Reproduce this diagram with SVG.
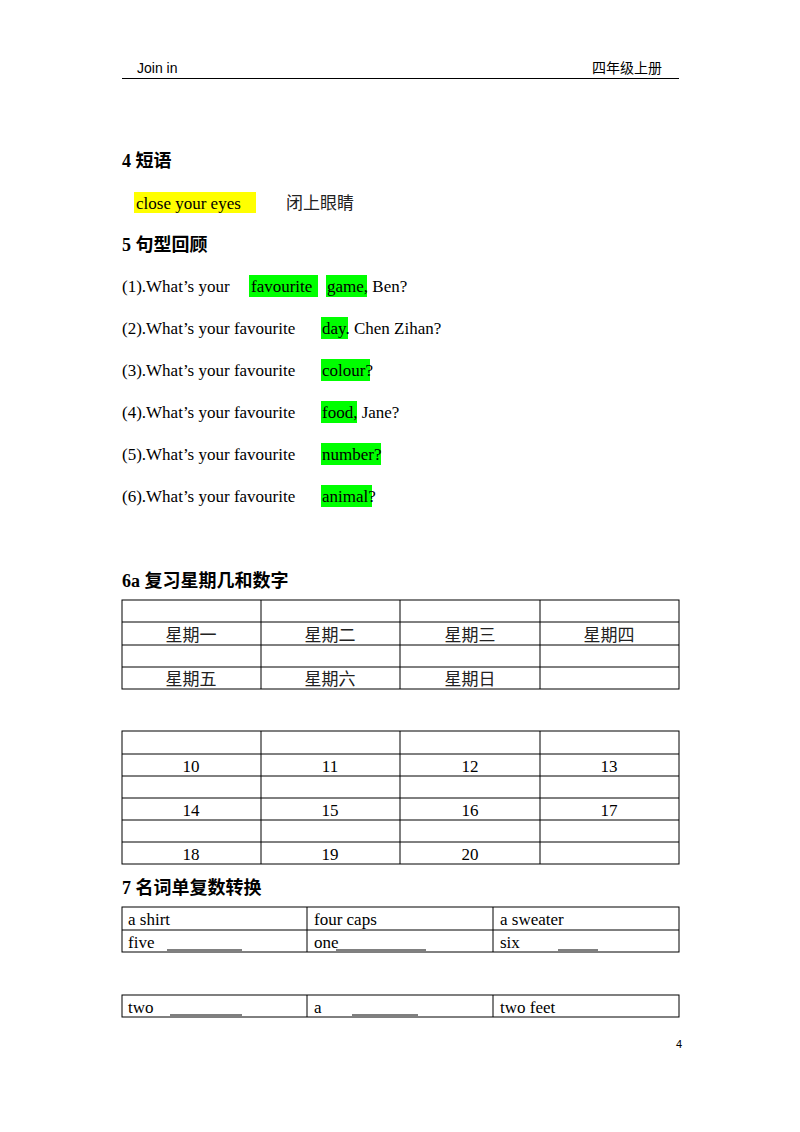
<svg xmlns="http://www.w3.org/2000/svg" width="800" height="1132" viewBox="0 0 800 1132">
<style>
.s{font-family:"Liberation Serif","Noto Sans CJK SC",serif;font-size:17px;fill:#000}
.c{font-family:"Noto Sans CJK SC",sans-serif;font-size:17px;fill:#222}
.h{font-family:"Liberation Serif","Noto Sans CJK SC",serif;font-size:18px;font-weight:bold}
.m{text-anchor:middle}
.g{fill:#00ff00}
.t{fill:none;stroke:#000;stroke-width:1}
</style>
<rect width="800" height="1132" fill="#fff"/>
<g id="header">
<text x="137" y="73" font-family="Liberation Sans,sans-serif" font-size="14">Join  in</text>
<text x="662" y="73" text-anchor="end" font-family="Noto Sans CJK SC,sans-serif" font-size="14">四年级上册</text>
<line x1="122" y1="78.5" x2="679" y2="78.5" stroke="#000" stroke-width="1.2"/>
</g>
<g id="sec4">
<text x="122" y="167" class="h">4  短语</text>
<rect x="134" y="192" width="122" height="21" fill="#ffff00"/>
<text x="136" y="209" class="s">close  your eyes</text>
<text x="286" y="209" class="c">闭上眼睛</text>
</g>
<g id="sec5">
<text x="122" y="251" class="h">5  句型回顾</text>
<rect x="249" y="275" width="69" height="22" class="g"/><rect x="326" y="275" width="41" height="22" class="g"/>
<text x="122" y="292" class="s">(1).What’s your</text><text x="251" y="292" class="s">favourite</text><text x="327" y="292" class="s">game, Ben?</text>
<rect x="321" y="317" width="27" height="22" class="g"/>
<text x="122" y="334" class="s">(2).What’s your favourite</text><text x="322" y="334" class="s">day. Chen Zihan?</text>
<rect x="321" y="359" width="49" height="22" class="g"/>
<text x="122" y="376" class="s">(3).What’s your favourite</text><text x="322" y="376" class="s">colour?</text>
<rect x="321" y="401" width="36" height="22" class="g"/>
<text x="122" y="418" class="s">(4).What’s your favourite</text><text x="322" y="418" class="s">food, Jane?</text>
<rect x="321" y="443" width="60" height="22" class="g"/>
<text x="122" y="460" class="s">(5).What’s your favourite</text><text x="322" y="460" class="s">number?</text>
<rect x="321" y="485" width="51" height="22" class="g"/>
<text x="122" y="502" class="s">(6).What’s your favourite</text><text x="322" y="502" class="s">animal?</text>
</g>
<g id="sec6a">
<text x="122" y="587" class="h">6a  复习星期几和数字</text>
<g class="t" stroke="#000">
<rect x="122" y="600" width="557" height="89" class="t"/>
<path d="M122 622H679M122 645H679M122 667H679M261 600V689M400 600V689M540 600V689" class="t"/>
<rect x="122" y="731" width="557" height="133" class="t"/>
<path d="M122 754H679M122 776H679M122 798H679M122 820H679M122 842H679M261 731V864M400 731V864M540 731V864" class="t"/>
</g>
<g class="c" fill="#222">
<text x="191" y="641" class="c m">星期一</text><text x="330" y="641" class="c m">星期二</text><text x="470" y="641" class="c m">星期三</text><text x="609" y="641" class="c m">星期四</text>
<text x="191" y="685" class="c m">星期五</text><text x="330" y="685" class="c m">星期六</text><text x="470" y="685" class="c m">星期日</text>
</g>
<text x="191" y="772" class="s m">10</text><text x="330" y="772" class="s m">11</text><text x="470" y="772" class="s m">12</text><text x="609" y="772" class="s m">13</text>
<text x="191" y="816" class="s m">14</text><text x="330" y="816" class="s m">15</text><text x="470" y="816" class="s m">16</text><text x="609" y="816" class="s m">17</text>
<text x="191" y="860" class="s m">18</text><text x="330" y="860" class="s m">19</text><text x="470" y="860" class="s m">20</text>
</g>
<g id="sec7">
<text x="122" y="894" class="h">7  名词单复数转换</text>
<rect x="122" y="907" width="557" height="45" class="t"/>
<path d="M122 930H679M307 907V952M493 907V952" class="t"/>
<rect x="122" y="995" width="557" height="22" class="t"/>
<path d="M307 995V1017M493 995V1017" class="t"/>
<text x="128" y="925" class="s">a      shirt</text><text x="314" y="925" class="s">four    caps</text><text x="500" y="925" class="s">a sweater</text>
<text x="128" y="948" class="s">five</text><text x="314" y="948" class="s">one</text><text x="500" y="948" class="s">six</text>
<text x="128" y="1013" class="s">two</text><text x="314" y="1013" class="s">a</text><text x="500" y="1013" class="s">two    feet</text>
<path d="M167 950H242M336 950H426M558 950H598M170 1015H242M352 1015H418" stroke="#000" stroke-width="1"/>
</g>
<text x="676" y="1048" font-family="Liberation Sans,sans-serif" font-size="11">4</text>
</svg>
